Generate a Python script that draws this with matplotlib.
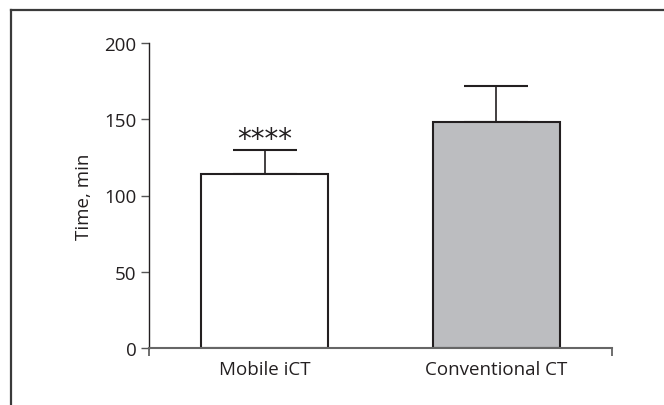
import matplotlib
matplotlib.use("Agg")
import matplotlib.pyplot as plt
from matplotlib.lines import Line2D

groups = ["Mobile iCT", "Conventional CT"]
means = [114, 148]
upper_err = [16, 24]
fills = ["#FFFFFF", "#BCBDC0"]
stars = ["****", ""]
y_ticks = [0, 50, 100, 150, 200]

plt.rcParams["font.family"] = ["Open Sans", "DejaVu Sans"]

fig = plt.figure(figsize=(6.64, 4.06), dpi=100)
ax = fig.add_axes([149 / 664, 1 - 349 / 406, (612 - 149) / 664, (349 - 44) / 406])

x = list(range(len(groups)))
ax.bar(x, means, width=0.55, color=fills, edgecolor="#231F20", linewidth=1.5, zorder=2)
ax.errorbar(x, means, yerr=[[0] * len(means), upper_err], fmt="none",
            ecolor="#231F20", elinewidth=1.2, capsize=23, capthick=1.5, zorder=1)

for xi, m, e, s in zip(x, means, upper_err, stars):
    if s:
        ax.annotate(s, (xi, m + e), xytext=(0, 2), textcoords="offset points",
                    ha="center", va="baseline", fontsize=20, color="#231F20",
                    family="DejaVu Sans")

ax.set_xlim(-0.5, 1.5)
ax.set_ylim(0, 200)
ax.set_yticks(y_ticks)
ax.set_xticks(x)
ax.set_xticklabels(groups)
ax.set_xticks([-0.5, 1.5], minor=True)
ax.tick_params(axis="x", which="major", length=0, pad=9, labelsize=13.5, colors="#231F20")
ax.tick_params(axis="x", which="minor", length=6, width=1.2, direction="out", color="#555555")
ax.tick_params(axis="y", length=6, width=1.0, direction="out", pad=3, labelsize=13.5,
               color="#555555", labelcolor="#231F20")
ax.set_ylabel("Time, min", fontsize=13.5, color="#231F20", labelpad=8)

for side in ("top", "right"):
    ax.spines[side].set_visible(False)
ax.spines["left"].set_color("#231F20")
ax.spines["left"].set_linewidth(1.0)
ax.spines["bottom"].set_color("#666666")
ax.spines["bottom"].set_linewidth(1.5)

# frame around figure (only top and left edges visible)
fx = 11 / 664
fy = 1 - 11 / 406
fig.add_artist(Line2D([fx, 1], [fy, fy], transform=fig.transFigure, color="#3a3a3a", lw=1.6))
fig.add_artist(Line2D([fx, fx], [0, fy], transform=fig.transFigure, color="#3a3a3a", lw=1.6))

fig.savefig("out.png", dpi=100)
